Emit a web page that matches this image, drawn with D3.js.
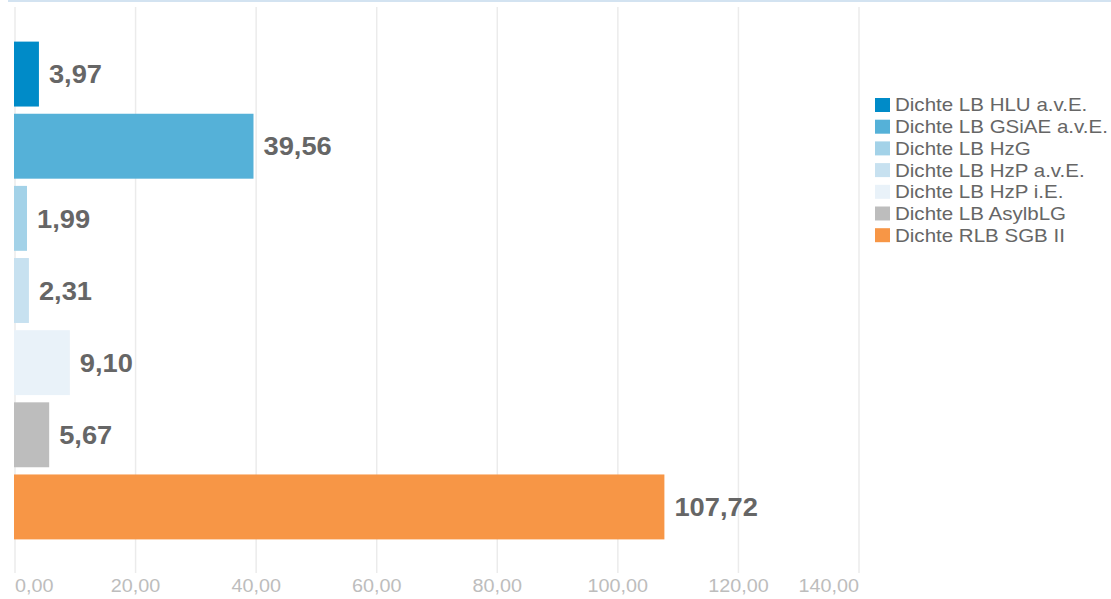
<!DOCTYPE html>
<html>
<head>
<meta charset="utf-8">
<script src="https://cdn.jsdelivr.net/npm/d3@7"></script>
<style>
  body { margin: 0; background: #fff; }
  svg { display: block; font-family: "Liberation Sans", Arial, sans-serif; }
</style>
</head>
<body>
<div id="chart"></div>
<script>
const categories = [
  "Dichte LB HLU a.v.E.",
  "Dichte LB GSiAE a.v.E.",
  "Dichte LB HzG",
  "Dichte LB HzP a.v.E.",
  "Dichte LB HzP i.E.",
  "Dichte LB AsylbLG",
  "Dichte RLB SGB II"
];
const values = [3.97, 39.56, 1.99, 2.31, 9.10, 5.67, 107.72];
const colors = ["#008bc8", "#55b1d8", "#a3d2e8", "#c7e1f0", "#e9f2f9", "#bdbdbd", "#f79646"];
const ticks = [0, 20, 40, 60, 80, 100, 120, 140];

const fmt = v => v.toFixed(2).replace(".", ",");

const width = 1111, height = 599;
const svg = d3.select("#chart").append("svg")
  .attr("width", width).attr("height", height);

// top border line
svg.append("rect").attr("x", 8).attr("y", 0).attr("width", width - 8).attr("height", 2)
  .attr("fill", "#d3e3f1");

const x = d3.scaleLinear().domain([0, 140]).range([15, 859]);
const y = d3.scaleBand().domain(categories).range([38, 543]).paddingInner(0.1).paddingOuter(0.05);

// gridlines
svg.append("g").selectAll("line").data(ticks).join("line")
  .attr("x1", d => x(d)).attr("x2", d => x(d))
  .attr("y1", 7).attr("y2", 573)
  .attr("stroke", "#ebebeb").attr("stroke-width", 1.5);

// tick labels (text in the original is slightly wider)
svg.append("g").selectAll("text").data(ticks).join("text")
  .attr("transform", d => `translate(${x(d)},592) scale(1.07,1)`)
  .attr("text-anchor", (d, i) => i === 0 ? "start" : (i === ticks.length - 1 ? "end" : "middle"))
  .attr("fill", "#bdbdbd")
  .style("font-size", "18.5px")
  .text(d => fmt(d));

// bars
svg.append("g").selectAll("rect").data(values).join("rect")
  .attr("x", x(0) - 1)
  .attr("y", (d, i) => y(categories[i]))
  .attr("width", d => x(d) - x(0) + 1)
  .attr("height", y.bandwidth())
  .attr("fill", (d, i) => colors[i]);

// value labels
svg.append("g").selectAll("text").data(values).join("text")
  .attr("transform", (d, i) => `translate(${x(d) + 10},${y(categories[i]) + y.bandwidth() / 2}) scale(1.07,1)`)
  .attr("dy", "0.36em")
  .attr("fill", "#666")
  .style("font-size", "25.5px")
  .style("font-weight", "bold")
  .text(d => fmt(d));

// legend
const legend = svg.append("g").attr("transform", "translate(875, 105)");
const row = legend.selectAll("g").data(categories).join("g")
  .attr("transform", (d, i) => `translate(0, ${i * 21.7})`);
row.append("rect").attr("x", 0).attr("y", -7).attr("width", 15).attr("height", 14)
  .attr("fill", (d, i) => colors[i]);
row.append("text").attr("transform", "translate(20,0) scale(1.14,1)").attr("dy", "0.36em")
  .attr("fill", "#666").style("font-size", "18px")
  .text(d => d);
</script>
</body>
</html>
